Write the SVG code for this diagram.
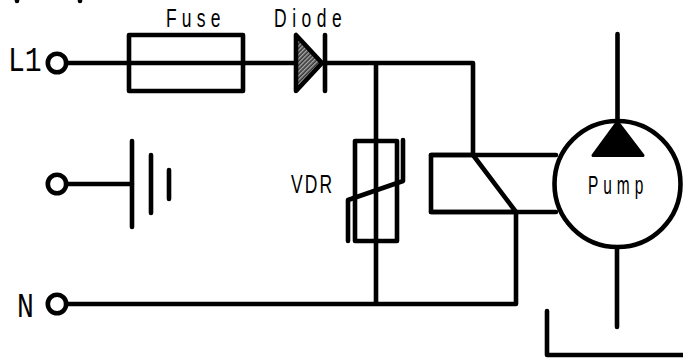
<svg xmlns="http://www.w3.org/2000/svg" width="683" height="358" viewBox="0 0 683 358">
<defs>
<pattern id="hatch" width="3" height="3" patternUnits="userSpaceOnUse" patternTransform="rotate(-45)">
<rect width="3" height="3" fill="#333"/><rect width="3" height="1.4" fill="#aaa"/>
</pattern>
</defs>
<style>
.w{fill:none;stroke:#000;stroke-width:4.6;stroke-linecap:round;stroke-linejoin:round}
.t{font-family:"Liberation Sans",sans-serif;font-size:25px;fill:#000}
.m{font-family:"Liberation Mono",monospace;font-size:36px;fill:#000}
</style>
<rect width="683" height="358" fill="#fff"/>
<g id="connectors" class="w">
<path d="M66 63H296M327 63H473V155M66 304H516V212M376 63V304M66 184H132"/>
<path d="M617.500 34V122M617 249V327M431 155H556M431 212H556M547 311V355H683"/>
<path d="M17 -3V1M80 -3V1"/>
</g>
<g id="L1"><text class="m" transform="translate(8 71) scale(.78 1)">L1</text><circle class="w" cx="57" cy="63" r="9.200"/></g>
<g id="N"><text class="m" transform="translate(17 317) scale(.78 1)">N</text><circle class="w" cx="57" cy="304" r="9.200"/></g>
<g id="terminal"><circle class="w" cx="57" cy="184" r="9.200"/></g>
<g id="battery" class="w"><path d="M132 141V227M151 155V213M169 170V199"/></g>
<g id="fuse"><rect class="w" x="129" y="35" width="114" height="56"/><text class="t" transform="translate(166 27) scale(.7 1)" letter-spacing="7.400">Fuse</text></g>
<g id="diode"><path d="M296 35V91L322 63Z" fill="url(#hatch)" stroke="#000" stroke-width="4.600" stroke-linejoin="round"/><path class="w" d="M325 35V91"/><text class="t" transform="translate(274 27) scale(.7 1)" letter-spacing="7.900">Diode</text></g>
<g id="vdr"><rect class="w" x="355" y="141" width="42" height="100"/><path class="w" d="M403 140V181L348 200V241"/><text class="t" transform="translate(291 193) scale(.7 1)" letter-spacing="3">VDR</text></g>
<g id="relay"><path class="w" d="M473 155H431V212H516L473 155"/></g>
<g id="pump"><circle cx="617.500" cy="184" r="63" fill="none" stroke="#000" stroke-width="4.600"/><path d="M617.500 122L593 155.500H643Z" fill="#000" stroke="#000" stroke-width="3" stroke-linejoin="round"/><text class="t" transform="translate(588 194) scale(.62 1)" letter-spacing="8">Pump</text></g>
</svg>
